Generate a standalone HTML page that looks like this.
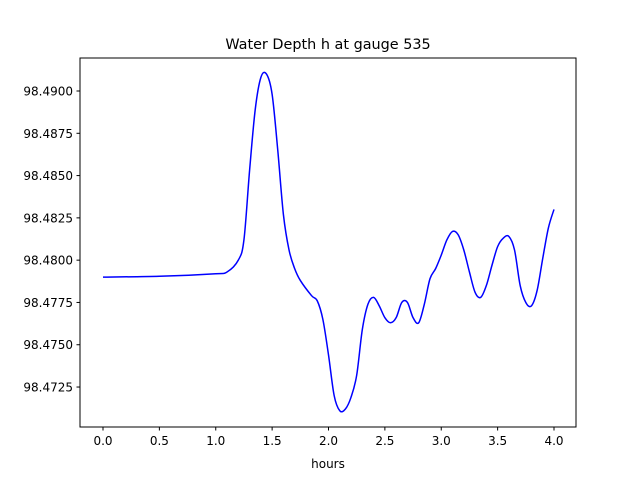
<!DOCTYPE html>
<html><head><meta charset="utf-8"><style>body{margin:0;background:#fff}text{font-family:"DejaVu Sans","Liberation Sans",sans-serif;fill:#000}</style></head>
<body>
<svg id="chart" width="640" height="480">
<rect x="0" y="0" width="640" height="480" fill="#fff"/>
<text x="328" y="49" font-size="14.4" text-anchor="middle">Water Depth h at gauge 535</text>
<g id="plot"></g>
<rect x="80" y="58" width="496" height="369" fill="none" stroke="#000" stroke-width="1"/>
<text x="328" y="468" font-size="12" text-anchor="middle">hours</text>
</svg>
<script>
const hours=[0,0.5,1.0,1.1,1.2,1.25,1.3,1.35,1.4,1.45,1.5,1.55,1.6,1.65,1.7,1.75,1.85,1.9,1.95,2.0,2.05,2.1,2.15,2.2,2.25,2.3,2.35,2.4,2.45,2.5,2.55,2.6,2.65,2.7,2.75,2.8,2.85,2.9,2.95,3.0,3.05,3.1,3.15,3.2,3.25,3.3,3.35,3.4,3.45,3.5,3.55,3.6,3.65,3.7,3.75,3.8,3.85,3.9,3.95,4.0];
const depth=[98.4790,98.47905,98.4792,98.4793,98.4800,98.4812,98.4853,98.4889,98.4908,98.4910,98.4898,98.4865,98.4827,98.4806,98.4795,98.4788,98.4779,98.4776,98.4765,98.4744,98.4720,98.4711,98.4712,98.4719,98.4732,98.4759,98.4774,98.4778,98.4773,98.4766,98.4763,98.4766,98.4775,98.4775,98.4766,98.4763,98.4774,98.4789,98.4795,98.4803,98.4812,98.4817,98.4815,98.4806,98.4793,98.4781,98.4778,98.4785,98.4797,98.4808,98.4813,98.4814,98.4806,98.4785,98.4775,98.4773,98.4782,98.4801,98.4819,98.4830];
const xTicks=[0,0.5,1,1.5,2,2.5,3,3.5,4];
const xTickLabels=["0.0","0.5","1.0","1.5","2.0","2.5","3.0","3.5","4.0"];
const yTicks=[98.4725,98.4750,98.4775,98.4800,98.4825,98.4850,98.4875,98.4900];
const yTickLabels=["98.4725","98.4750","98.4775","98.4800","98.4825","98.4850","98.4875","98.4900"];
const X=h=>103+h*112.75;
const Y=v=>91+(98.49-v)/0.0025*42.29;
const NS="http://www.w3.org/2000/svg";
const g=document.getElementById('plot');
function mk(t,a){const e=document.createElementNS(NS,t);for(const k in a)e.setAttribute(k,a[k]);g.appendChild(e);return e;}
xTicks.forEach((t,i)=>{
 const l=mk('line',{x1:X(t),x2:X(t),y1:427,y2:430.5,stroke:'#000'});
 
 
 const tx=mk('text',{x:X(t),y:445,'font-size':12,'text-anchor':'middle'});tx.textContent=xTickLabels[i];
 
 
});
yTicks.forEach((t,i)=>{
 const l=mk('line',{x1:76.5,x2:80,y1:Y(t),y2:Y(t),stroke:'#000'});
 
 
 const tx=mk('text',{x:73,y:Y(t)+4.5,'font-size':12,'text-anchor':'end'});tx.textContent=yTickLabels[i];
 
 
});
const P=hours.map((h,i)=>[X(h),Y(depth[i])]);
let d='M'+P[0][0]+','+P[0][1];
for(let i=0;i<P.length-1;i++){
 const p0=P[Math.max(0,i-1)],p1=P[i],p2=P[i+1],p3=P[Math.min(P.length-1,i+2)];
 const c1=[p1[0]+(p2[0]-p0[0])/6,p1[1]+(p2[1]-p0[1])/6],c2=[p2[0]-(p3[0]-p1[0])/6,p2[1]-(p3[1]-p1[1])/6];
 d+=` C${c1[0]},${c1[1]} ${c2[0]},${c2[1]} ${p2[0]},${p2[1]}`;
}
const line=mk('path',{d:d,fill:'none',stroke:'#0000ff','stroke-width':1.5});


</script>
</body></html>
